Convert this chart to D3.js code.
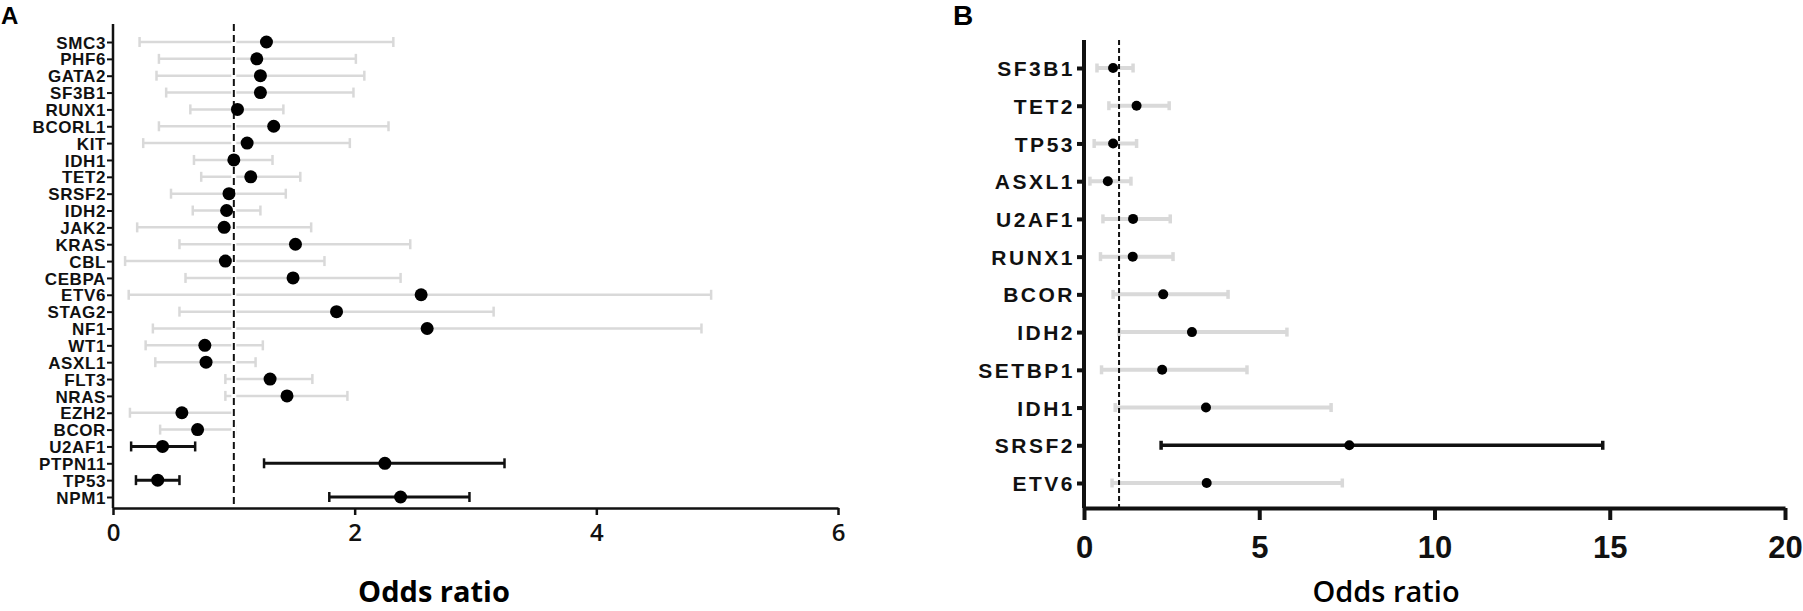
<!DOCTYPE html>
<html>
<head>
<meta charset="utf-8">
<script src="https://cdn.jsdelivr.net/npm/d3@7/dist/d3.min.js"></script>
<style>
  html, body { margin: 0; padding: 0; background: #fff; }
  svg { display: block; }
</style>
</head>
<body>
<svg id="chart" width="1803" height="611"></svg>
<script>
// Forest plots of odds ratios — panel A (28 genes) and panel B (12 genes).

// ── Panel A data ──────────────────────────────────────────────
const genesA = ["SMC3", "PHF6", "GATA2", "SF3B1", "RUNX1", "BCORL1", "KIT", "IDH1", "TET2",
  "SRSF2", "IDH2", "JAK2", "KRAS", "CBL", "CEBPA", "ETV6", "STAG2", "NF1", "WT1", "ASXL1",
  "FLT3", "NRAS", "EZH2", "BCOR", "U2AF1", "PTPN11", "TP53", "NPM1"];
const orA   = [1.27, 1.19, 1.22, 1.22, 1.03, 1.33, 1.11, 1.00, 1.14, 0.96, 0.94, 0.92, 1.51, 0.93,
  1.49, 2.55, 1.85, 2.60, 0.76, 0.77, 1.30, 1.44, 0.57, 0.70, 0.41, 2.25, 0.37, 2.38];
const lowA  = [0.22, 0.38, 0.36, 0.44, 0.64, 0.38, 0.25, 0.67, 0.73, 0.48, 0.66, 0.20, 0.55, 0.10,
  0.60, 0.13, 0.55, 0.33, 0.27, 0.35, 0.93, 0.93, 0.14, 0.39, 0.15, 1.25, 0.19, 1.79];
const highA = [2.32, 2.01, 2.08, 1.99, 1.41, 2.28, 1.96, 1.32, 1.55, 1.43, 1.22, 1.64, 2.46, 1.75,
  2.38, 4.95, 3.15, 4.87, 1.24, 1.18, 1.65, 1.94, 1.00, 1.01, 0.68, 3.24, 0.55, 2.95];
const sigA  = ["U2AF1", "PTPN11", "TP53", "NPM1"];
const ticksA = [0, 2, 4, 6];

// ── Panel B data ──────────────────────────────────────────────
const genesB = ["SF3B1", "TET2", "TP53", "ASXL1", "U2AF1", "RUNX1", "BCOR", "IDH2", "SETBP1",
  "IDH1", "SRSF2", "ETV6"];
const orB   = [0.83, 1.50, 0.83, 0.68, 1.40, 1.39, 2.26, 3.08, 2.23, 3.48, 7.57, 3.50];
const lowB  = [0.37, 0.71, 0.29, 0.17, 0.54, 0.47, 0.83, 1.00, 0.50, 0.89, 2.20, 0.80];
const highB = [1.40, 2.43, 1.50, 1.34, 2.46, 2.54, 4.11, 5.79, 4.65, 7.05, 14.8, 7.37];
const sigB  = ["SRSF2"];
const ticksB = [0, 5, 10, 15, 20];

const GREY = "#d9d9d9";
const svg = d3.select("#chart");
svg.append("rect").attr("width", 1803).attr("height", 611).attr("fill", "#fff");

function rowsOf(genes, or, lo, hi, sig) {
  return genes.map((g, i) => ({ gene: g, or: or[i], lo: lo[i], hi: hi[i], sig: sig.includes(g) }));
}

function forest(opt) {
  const g = svg.append("g");
  const x = d3.scaleLinear().domain(opt.domain).range(opt.xRange);
  const y = d3.scalePoint().domain(opt.rows.map(d => d.gene)).range(opt.yRange);

  // x axis
  const xa = g.append("g")
    .attr("transform", `translate(0,${opt.axisY})`)
    .call(d3.axisBottom(x).tickValues(opt.ticks).tickSize(opt.xTick).tickSizeOuter(0).tickFormat(d3.format("d")));
  xa.select(".domain").attr("stroke", "#111").attr("stroke-width", opt.axisW);
  xa.selectAll(".tick line").attr("stroke", "#111").attr("stroke-width", opt.axisW);
  xa.selectAll(".tick text")
    .attr("y", opt.tickLabelY - opt.axisY).attr("dy", null)
    .attr("fill", "#111")
    .style("font-family", opt.tickFont).style("font-size", opt.tickSize + "px")
    .style("font-weight", opt.tickWeight);

  // y axis
  const ya = g.append("g")
    .attr("transform", `translate(${opt.xRange[0]},0)`)
    .call(d3.axisLeft(y).tickSize(opt.yTick).tickPadding(opt.yPad));
  ya.select(".domain").remove();
  ya.selectAll(".tick line").attr("stroke", "#111").attr("stroke-width", opt.yTickW);
  ya.selectAll(".tick text")
    .attr("fill", "#111").attr("dy", "0.36em")
    .style("font-family", "'Liberation Sans', Arial, sans-serif")
    .style("font-size", opt.labelSize + "px").style("font-weight", "bold")
    .style("letter-spacing", opt.labelSpacing + "px");
  g.append("line")
    .attr("x1", opt.xRange[0]).attr("x2", opt.xRange[0])
    .attr("y1", opt.axisTop).attr("y2", opt.axisY)
    .attr("stroke", "#111").attr("stroke-width", opt.axisW);

  // error bars
  const bars = g.append("g").selectAll("g").data(opt.rows).join("g")
    .attr("stroke", d => d.sig ? "#111" : GREY);
  bars.append("line")
    .attr("x1", d => x(d.lo)).attr("x2", d => x(d.hi))
    .attr("y1", d => y(d.gene)).attr("y2", d => y(d.gene))
    .attr("stroke-width", d => d.sig ? opt.sigW : opt.barW);
  for (const k of ["lo", "hi"]) {
    bars.append("line")
      .attr("x1", d => x(d[k])).attr("x2", d => x(d[k]))
      .attr("y1", d => y(d.gene) - opt.cap).attr("y2", d => y(d.gene) + opt.cap)
      .attr("stroke-width", opt.capW);
  }

  // reference line at OR = 1
  if (opt.halo) {
    g.append("line")
      .attr("x1", x(1)).attr("x2", x(1)).attr("y1", opt.axisTop).attr("y2", opt.axisY - 2)
      .attr("stroke", "#fff").attr("stroke-width", opt.halo);
  }
  g.append("line")
    .attr("x1", x(1)).attr("x2", x(1)).attr("y1", opt.axisTop).attr("y2", opt.axisY - 1)
    .attr("stroke", "#111").attr("stroke-width", 2)
    .attr("stroke-dasharray", opt.dash);

  // point estimates
  g.append("g").selectAll("circle").data(opt.rows).join("circle")
    .attr("cx", d => x(d.or)).attr("cy", d => y(d.gene))
    .attr("r", opt.dotR).attr("fill", "#000");

  // titles
  g.append("text")
    .attr("x", opt.titleX).attr("y", opt.titleY)
    .attr("text-anchor", "middle").attr("fill", "#000")
    .style("font-family", "'Open Sans', sans-serif").style("font-size", "29px")
    .style("font-weight", opt.titleWeight)
    .text("Odds ratio");
  g.append("text")
    .attr("x", opt.panelX).attr("y", opt.panelY).attr("fill", "#000")
    .style("font-family", "'Liberation Sans', Arial, sans-serif")
    .style("font-size", opt.panelSize + "px").style("font-weight", "bold")
    .text(opt.panel);
}

forest({
  rows: rowsOf(genesA, orA, lowA, highA, sigA),
  domain: [0, 6], xRange: [113, 838], yRange: [42, 497], ticks: ticksA,
  axisY: 508, axisTop: 24, axisW: 2.5, xTick: 7,
  tickLabelY: 541, tickFont: "'Open Sans', sans-serif", tickSize: 24, tickWeight: 600,
  yTick: 6, yTickW: 2, yPad: 1, labelSize: 17, labelSpacing: 0.6,
  barW: 2.5, sigW: 3, cap: 5, capW: 2.5, dotR: 6.5, dash: "7,4", halo: 5,
  titleX: 434, titleY: 602, titleWeight: 700,
  panel: "A", panelX: 1, panelY: 24, panelSize: 24
});

forest({
  rows: rowsOf(genesB, orB, lowB, highB, sigB),
  domain: [0, 20], xRange: [1084, 1785], yRange: [68, 483], ticks: ticksB,
  axisY: 508, axisTop: 40, axisW: 4, xTick: 12,
  tickLabelY: 558, tickFont: "'Liberation Sans', Arial, sans-serif", tickSize: 31, tickWeight: "bold",
  yTick: 7, yTickW: 4, yPad: 2, labelSize: 21, labelSpacing: 2.5,
  barW: 4, sigW: 3.5, cap: 4.5, capW: 3.5, dotR: 5, dash: "5,3", halo: 0,
  titleX: 1386, titleY: 602, titleWeight: 600,
  panel: "B", panelX: 953, panelY: 25, panelSize: 28
});
</script>
</body>
</html>
